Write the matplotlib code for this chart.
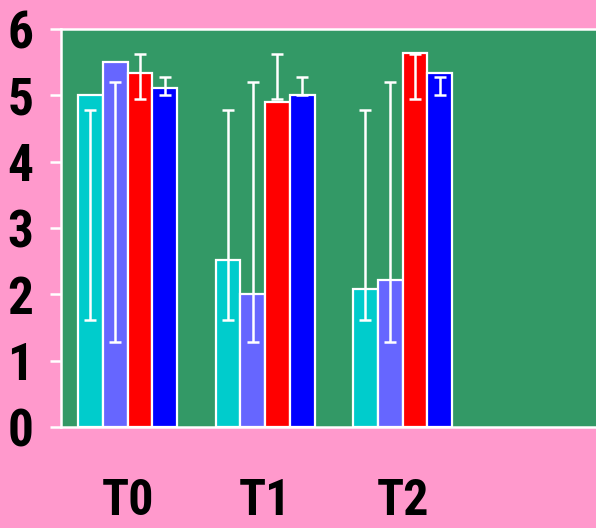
import matplotlib
matplotlib.use("Agg")
import numpy as np
import matplotlib.pyplot as plt

# Data
groups = ["T0", "T1", "T2"]
series_colors = ["#00CCCC", "#6666FF", "#FF0000", "#0000FF"]

cyan_vals = [5.0, 2.52, 2.08]
slate_vals = [5.5, 2.0, 2.22]
red_vals = [5.34, 4.9, 5.64]
blue_vals = [5.11, 5.0, 5.34]

# error bar ends (low, high) per series, same in every group
cyan_err = [1.62, 4.78]
slate_err = [1.28, 5.2]
red_err = [4.95, 5.63]
blue_err = [5.0, 5.28]

values = [cyan_vals, slate_vals, red_vals, blue_vals]
errs = [cyan_err, slate_err, red_err, blue_err]

plt.rcParams["font.family"] = ["Roboto Condensed", "Barlow Condensed", "DejaVu Sans"]

fig = plt.figure(figsize=(5.96, 5.28), dpi=100)
fig.patch.set_facecolor("#FF99CC")

ax = fig.add_axes([61 / 596, 1 - 427 / 528, 535 / 596, 398 / 528])
ax.set_facecolor("#339966")

x = np.arange(len(groups))
width = 0.18

for i, (vals, err, color) in enumerate(zip(values, errs, series_colors)):
    pos = x + (i - 1.5) * width
    ax.bar(
        pos,
        vals,
        width,
        color=color,
        edgecolor="white",
        linewidth=1.6,
        zorder=2
    )
    lo, hi = err
    mid = np.full(len(groups), (lo + hi) / 2)
    ax.errorbar(
        pos,
        mid,
        yerr=(hi - lo) / 2,
        fmt="none",
        ecolor="white",
        elinewidth=1.8,
        capsize=4.5,
        capthick=1.8,
        zorder=3
    )

ax.set_xlim(-0.484, 3.407)
ax.set_ylim(0, 6)
ax.set_yticks(range(0, 7))
ax.set_xticks(x)
ax.set_xticklabels(groups)

for side in ["left", "top", "bottom"]:
    ax.spines[side].set_color("white")
    ax.spines[side].set_linewidth(1.8)
ax.spines["right"].set_visible(False)

ax.tick_params(axis="y", colors="white", length=8, width=1.8, pad=12,
               labelcolor="black", labelsize=37)
ax.tick_params(axis="x", length=0, pad=37, labelcolor="black", labelsize=36)
for lab in ax.get_xticklabels() + ax.get_yticklabels():
    lab.set_fontweight("bold")

fig.savefig("out.png", dpi=100, facecolor=fig.get_facecolor())
